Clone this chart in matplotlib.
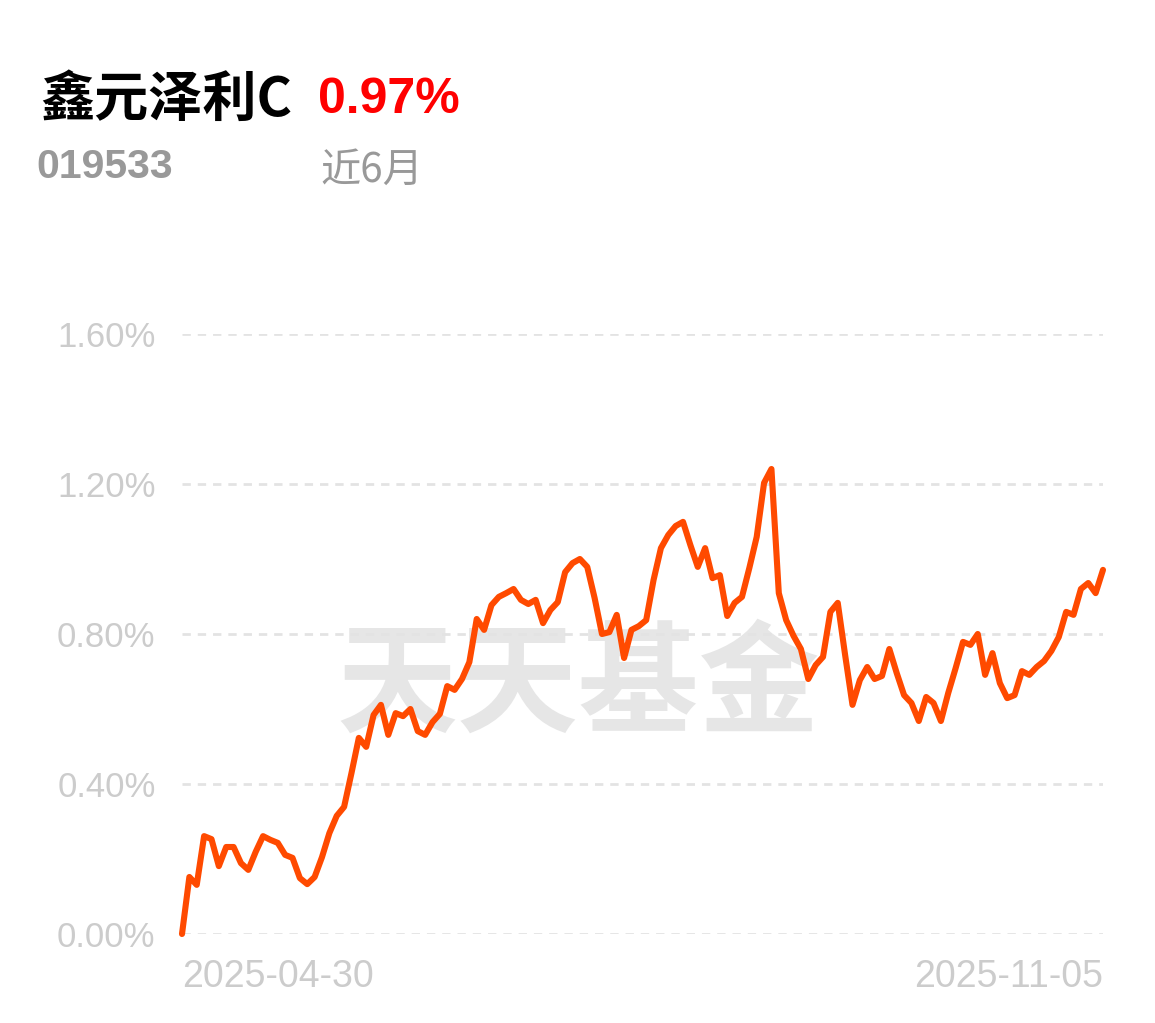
import matplotlib.pyplot as plt

fund_name = "鑫元泽利C"
fund_code = "019533"
period_label = "近6月"
period_return = "0.97%"
date_labels = ["2025-04-30", "2025-11-05"]
y_ticks = [0.0, 0.4, 0.8, 1.2, 1.6]

# cumulative return (%), one value per trading day
returns = [
    0.000, 0.152, 0.131, 0.261, 0.253, 0.181, 0.232, 0.232, 0.189, 0.171,
    0.219, 0.261, 0.251, 0.243, 0.211, 0.203, 0.149, 0.133, 0.152, 0.205,
    0.269, 0.315, 0.339, 0.429, 0.523, 0.499, 0.584, 0.611, 0.531, 0.589,
    0.581, 0.600, 0.541, 0.531, 0.565, 0.587, 0.661, 0.651, 0.680, 0.725,
    0.840, 0.811, 0.877, 0.899, 0.909, 0.920, 0.891, 0.880, 0.891, 0.829,
    0.864, 0.885, 0.965, 0.989, 1.000, 0.979, 0.896, 0.800, 0.805, 0.851,
    0.736, 0.811, 0.821, 0.837, 0.944, 1.029, 1.064, 1.088, 1.099, 1.037,
    0.979, 1.029, 0.949, 0.957, 0.848, 0.883, 0.899, 0.976, 1.059, 1.203,
    1.240, 0.909, 0.837, 0.795, 0.760, 0.680, 0.717, 0.739, 0.859, 0.883,
    0.744, 0.611, 0.677, 0.712, 0.680, 0.688, 0.760, 0.696, 0.637, 0.616,
    0.568, 0.632, 0.616, 0.568, 0.643, 0.709, 0.779, 0.771, 0.800, 0.691,
    0.749, 0.669, 0.629, 0.637, 0.701, 0.691, 0.712, 0.728, 0.755, 0.792,
    0.859, 0.851, 0.920, 0.936, 0.909, 0.971,
]

CJK = ['Noto Sans CJK SC', 'DejaVu Sans']
NUM = ['Liberation Sans', 'DejaVu Sans']

W, H = 1155, 1023
fig = plt.figure(figsize=(W / 100, H / 100), dpi=100)
fig.patch.set_facecolor('white')

# plot area in pixels: x 182..1103, y 334 (1.6%) .. 934 (0%)
ax = fig.add_axes([182 / W, 1 - 934 / H, (1103 - 182) / W, 600 / H])
x = list(range(len(returns)))
ax.set_xlim(0, len(returns) - 1)
ax.set_ylim(0, 1.6)

for v in y_ticks:
    ax.axhline(v, color='#e3e3e3', lw=2, ls=(0, (3, 2.5)), zorder=1)

ax.text(0.43, 0.41, "天天基金", transform=ax.transAxes, ha='center', va='center',
        fontsize=87, fontweight='bold', color='#e6e6e6', family=CJK, zorder=0)

ax.plot(x, returns, color='#ff4a00', lw=4.4, solid_joinstyle='round',
        solid_capstyle='round', clip_on=False, zorder=3)

for s in ax.spines.values():
    s.set_visible(False)
ax.set_yticks(y_ticks)
ax.set_yticklabels([f"{v:.2f}%" for v in y_ticks], family=NUM,
                   fontsize=25, color='#cccccc')
ax.set_xticks([x[0], x[-1]])
ax.set_xticklabels(date_labels, family=NUM, fontsize=27, color='#cccccc')
ax.get_xticklabels()[0].set_ha('left')
ax.get_xticklabels()[1].set_ha('right')
ax.tick_params(axis='y', length=0, pad=19)
ax.tick_params(axis='x', length=0, pad=18)

# header
fig.text(40 / W, 1 - 100 / H, fund_name, fontsize=39, fontweight='bold',
         color='black', family=CJK, va='center', ha='left')
fig.text(318 / W, 1 - 100 / H, period_return, fontsize=36, fontweight='bold',
         color='#ff0000', family=NUM, va='center', ha='left')
fig.text(36 / W, 1 - 167 / H, fund_code, fontsize=29.5, fontweight='bold',
         color='#999999', family=NUM, va='center', ha='left')
fig.text(320 / W, 1 - 170 / H, period_label, fontsize=29,
         color='#999999', family=CJK, va='center', ha='left')

fig.savefig('out.png', dpi=100)
